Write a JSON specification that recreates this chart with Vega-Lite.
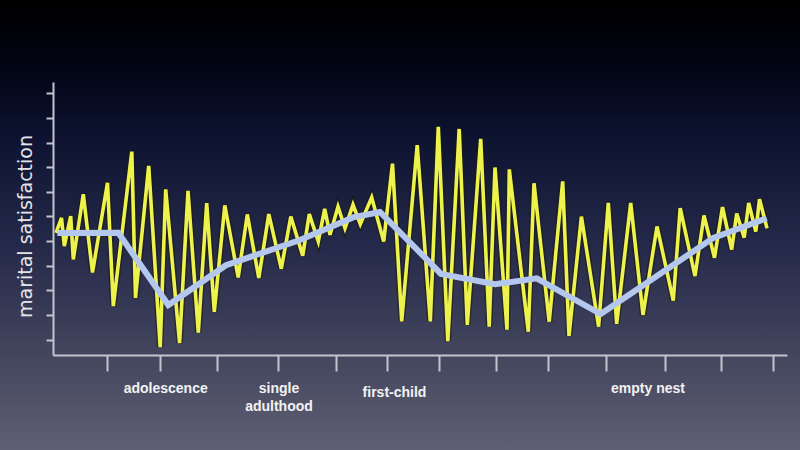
{
  "$schema": "https://vega.github.io/schema/vega-lite/v6.json",
  "width": 800,
  "height": 450,
  "autosize": {"type": "none"},
  "padding": 0,
  "background": "#000000",
  "view": {
    "stroke": null,
    "fill": {
      "gradient": "linear", "x1": 0, "y1": 0, "x2": 0, "y2": 1,
      "stops": [
        {"offset": 0, "color": "#000000"},
        {"offset": 0.12, "color": "#01030f"},
        {"offset": 0.3, "color": "#0c1230"},
        {"offset": 0.55, "color": "#262a4a"},
        {"offset": 0.8, "color": "#45475f"},
        {"offset": 1, "color": "#5e5f72"}
      ]
    }
  },
  "datasets": {
    "yellow": [
      {"t": 3, "s": 44.7}, {"t": 8.5, "s": 50.2}, {"t": 11.3, "s": 39.9}, {"t": 17.7, "s": 50.9},
      {"t": 20.3, "s": 35.0}, {"t": 30.3, "s": 58.9}, {"t": 39.5, "s": 30.2}, {"t": 54.5, "s": 63.1},
      {"t": 60.3, "s": 17.9}, {"t": 78.8, "s": 74.5}, {"t": 82.5, "s": 20.9}, {"t": 95.7, "s": 69.3},
      {"t": 107.2, "s": 2.9}, {"t": 112.7, "s": 60.7}, {"t": 126.6, "s": 4.4}, {"t": 135, "s": 60.1},
      {"t": 145.3, "s": 8.2}, {"t": 153.7, "s": 55.6}, {"t": 161.3, "s": 15.8}, {"t": 171.8, "s": 54.8},
      {"t": 185.2, "s": 28.4}, {"t": 194.3, "s": 51.5}, {"t": 205.8, "s": 28.2}, {"t": 215.8, "s": 51.6},
      {"t": 228.3, "s": 31.6}, {"t": 237.8, "s": 50.7}, {"t": 249.7, "s": 36.4}, {"t": 256.3, "s": 51.6},
      {"t": 265.3, "s": 41.6}, {"t": 271.7, "s": 53.5}, {"t": 277, "s": 44.0}, {"t": 285, "s": 54.3},
      {"t": 292, "s": 46.4}, {"t": 300, "s": 55.1}, {"t": 307.3, "s": 47.9}, {"t": 318.7, "s": 57.7},
      {"t": 330.7, "s": 41.6}, {"t": 339.5, "s": 70.1}, {"t": 348.7, "s": 12.3}, {"t": 364.2, "s": 76.9},
      {"t": 377.3, "s": 12.3}, {"t": 385.3, "s": 83.6}, {"t": 394.8, "s": 5.1}, {"t": 406.2, "s": 82.8},
      {"t": 414.3, "s": 11.0}, {"t": 427.7, "s": 79.2}, {"t": 436.2, "s": 10.4}, {"t": 442, "s": 68.7},
      {"t": 454, "s": 9.3}, {"t": 456.3, "s": 68.0}, {"t": 475.3, "s": 8.5}, {"t": 481, "s": 62.9},
      {"t": 496.2, "s": 12.2}, {"t": 509.7, "s": 63.6}, {"t": 516, "s": 7.0}, {"t": 528.4, "s": 50.7},
      {"t": 545.6, "s": 10.4}, {"t": 555.3, "s": 55.7}, {"t": 563.7, "s": 11.4}, {"t": 577.7, "s": 55.7},
      {"t": 590, "s": 14.7}, {"t": 604, "s": 47.1}, {"t": 620.3, "s": 19.9}, {"t": 627.2, "s": 53.8},
      {"t": 642, "s": 28.9}, {"t": 651, "s": 51.1}, {"t": 661.5, "s": 35.6}, {"t": 669.5, "s": 54.2},
      {"t": 678.7, "s": 38.6}, {"t": 683.7, "s": 51.8}, {"t": 691.2, "s": 43.0}, {"t": 695.7, "s": 55.7},
      {"t": 702.8, "s": 45.2}, {"t": 706.5, "s": 57.1}, {"t": 714, "s": 46.4}
    ],
    "blue": [
      {"t": 4.3, "s": 44.7}, {"t": 65.3, "s": 44.8}, {"t": 115.3, "s": 18.3}, {"t": 173, "s": 32.9},
      {"t": 247, "s": 42.1}, {"t": 300, "s": 50.4}, {"t": 327, "s": 52.4}, {"t": 388, "s": 29.7},
      {"t": 442, "s": 25.9}, {"t": 483.7, "s": 28.1}, {"t": 547.7, "s": 15.0}, {"t": 660.3, "s": 42.9},
      {"t": 713.7, "s": 50.1}
    ],
    "stages": [
      {"t": 112.7, "label": "adolescence"},
      {"t": 226, "label": "single\nadulthood"},
      {"t": 341.5, "label": "first-child"},
      {"t": 595, "label": "empty nest"}
    ]
  },
  "layer": [
    {
      "data": {"name": "yellow"},
      "mark": {"type": "line", "stroke": "#1a1a05", "strokeWidth": 6.5, "opacity": 0.55},
      "encoding": {
        "x": {"field": "t", "type": "quantitative", "sort": null,
          "scale": {"domain": [0, 734], "range": [53, 787], "nice": false, "zero": false},
          "axis": {"title": null, "labels": false, "grid": false, "offset": -95, "zindex": 1,
            "values": [53.5, 107, 164.3, 225.3, 282.5, 334.5, 386.2, 442.7, 495.3, 552.7, 612, 668.2, 720.3],
            "tickSize": 16, "tickWidth": 2, "tickColor": "#c4c4ce", "domainColor": "#c4c4ce", "domainWidth": 2}},
        "y": {"field": "s", "type": "quantitative",
          "scale": {"domain": [0, 100], "range": [355, 82], "nice": false, "zero": false},
          "axis": {"title": "marital satisfaction", "labels": false, "grid": false, "offset": -53, "zindex": 1,
            "values": [5.6, 14.6, 23.7, 32.7, 41.7, 50.8, 59.8, 68.8, 77.8, 86.9, 95.9],
            "tickSize": 7, "tickWidth": 2, "tickColor": "#c4c4ce", "domainColor": "#c4c4ce", "domainWidth": 2,
            "titleFont": "DejaVu Sans", "titleFontSize": 19, "titleFontWeight": "normal", "titleColor": "#e4e4ea",
            "titleAngle": -90, "titleX": -28, "titleY": 226, "titleAlign": "center", "titleBaseline": "middle"}}
      }
    },
    {
      "data": {"name": "yellow"},
      "mark": {"type": "line", "stroke": "#eef24c", "strokeWidth": 3.6},
      "encoding": {
        "x": {"field": "t", "type": "quantitative", "sort": null},
        "y": {"field": "s", "type": "quantitative"}
      }
    },
    {
      "data": {"name": "blue"},
      "mark": {"type": "line", "stroke": "#b4c7ee", "strokeWidth": 6},
      "encoding": {
        "x": {"field": "t", "type": "quantitative", "sort": null},
        "y": {"field": "s", "type": "quantitative"}
      }
    },
    {
      "data": {"name": "stages"},
      "mark": {"type": "text", "font": "Liberation Sans", "fontSize": 14, "fontWeight": "bold",
        "color": "#f2f2f4", "align": "center", "baseline": "alphabetic", "lineBreak": "\n", "lineHeight": 17.5,
        "dy": {"expr": "datum.label == 'first-child' ? 4 : 0"}},
      "encoding": {
        "x": {"field": "t", "type": "quantitative"},
        "y": {"datum": -14, "type": "quantitative"},
        "text": {"field": "label"}
      }
    }
  ]
}
